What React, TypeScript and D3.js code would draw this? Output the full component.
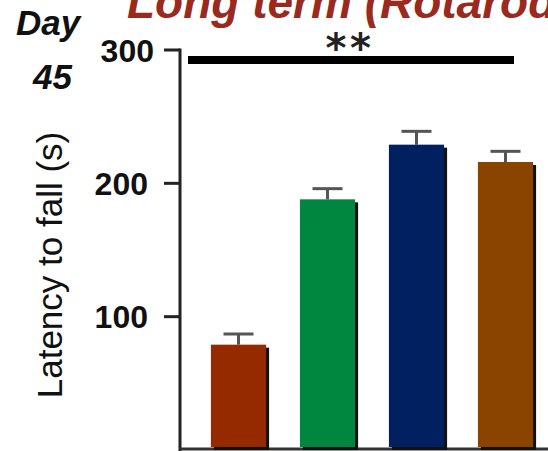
import React from "react";
import * as d3 from "d3";

const groups = ["G1", "G2", "G3", "G4"];
const means = [79, 188, 229, 216];
const errors = [8, 8, 10, 8];
const colors = ["#952900", "#00873F", "#00205F", "#8B4300"];
const yTicks = [100, 200, 300];
const titleText = "Long term (Rotarod)";
const yLabel = "Latency to fall (s)";
const dayLabel = "Day";
const dayNumber = "45";
const sigText = "**";

export default function App() {
  const W = 548, H = 451;
  const axisX = 180;
  const x = d3.scaleBand<string>().domain(groups).range([194, 550]).paddingInner(0.38).paddingOuter(0.19);
  const y = d3.scaleLinear().domain([0, 300]).range([450, 50]);
  const bw = x.bandwidth();
  const base = y(0) - 3;
  return (
    <svg width={W} height={H} style={{ position: "absolute", left: 0, top: 0, background: "#fff" }}>
      <text x={127} y={18} fill="#9A2A1E" fontFamily="Liberation Sans, Arial, sans-serif" fontWeight="bold" fontStyle="italic" fontSize={46}>{titleText}</text>
      <text x={16} y={35} fontFamily="Liberation Sans, Arial, sans-serif" fontWeight="bold" fontStyle="italic" fontSize={35} fill="#111">{dayLabel}</text>
      <text x={33} y={89} fontFamily="Liberation Sans, Arial, sans-serif" fontWeight="bold" fontStyle="italic" fontSize={35} fill="#111">{dayNumber}</text>
      <text transform={`translate(62,265) rotate(-90)`} textAnchor="middle" fontFamily="Liberation Sans, Arial, sans-serif" fontSize={35} fill="#111">{yLabel}</text>
      {yTicks.map((t) => (
        <g key={t}>
          <line x1={164} x2={axisX} y1={y(t)} y2={y(t)} stroke="#222" strokeWidth={3} />
          <text x={t === 300 ? 154 : 148} y={y(t)} dy="0.36em" textAnchor="end" fontFamily="Liberation Sans, Arial, sans-serif" fontWeight="bold" fontSize={32} fill="#111">{t}</text>
        </g>
      ))}
      <line x1={axisX} x2={axisX} y1={y(300) - 1.5} y2={451} stroke="#222" strokeWidth={3} />
      <line x1={axisX} x2={W} y1={449} y2={449} stroke="#333" strokeWidth={3} />
      {groups.map((g, i) => {
        const x0 = x(g)!;
        const cx = x0 + bw / 2;
        const top = y(means[i]);
        const errTop = y(means[i] + errors[i]);
        return (
          <g key={g}>
            <line x1={cx} x2={cx} y1={errTop} y2={top} stroke="#555" strokeWidth={3} />
            <line x1={cx - 15} x2={cx + 15} y1={errTop} y2={errTop} stroke="#555" strokeWidth={3} />
            <rect x={x0 + 3} y={top + 3} width={bw} height={base - top} fill="#111" />
            <rect x={x0} y={top} width={bw} height={base - top} fill={colors[i]} />
          </g>
        );
      })}
      <rect x={188} y={56} width={326} height={8} fill="#000" />
      <text x={350} y={62} textAnchor="middle" fontFamily="DejaVu Sans, sans-serif" fontWeight="bold" fontSize={40} letterSpacing={3.5} fill="#222">{sigText}</text>
    </svg>
  );
}
